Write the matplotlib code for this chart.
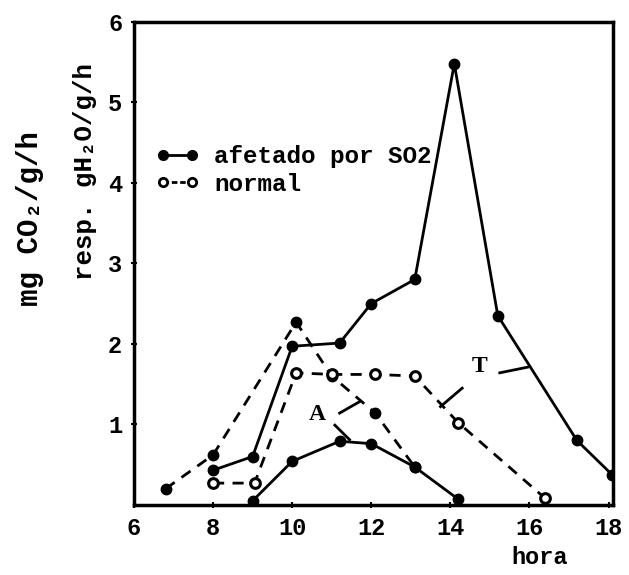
'''
Respiration / transpiration chart: plants affected by SO2 vs normal
'''
import matplotlib
matplotlib.use('Agg')
from matplotlib import pyplot as plt
from matplotlib.lines import Line2D

# Series (hour, value)
t_afetado_x = [8, 9, 10, 11.2, 12, 13.1, 14.1, 15.2, 17.2, 18.1]
t_afetado_y = [0.43, 0.6, 1.97, 2.01, 2.5, 2.8, 5.48, 2.35, 0.8, 0.37]

a_afetado_x = [9, 10, 11.2, 12, 13.1, 14.2]
a_afetado_y = [0.05, 0.54, 0.79, 0.76, 0.47, 0.07]

a_normal_x = [6.8, 8, 10.1, 11, 12.1, 13.1]
a_normal_y = [0.2, 0.62, 2.27, 1.6, 1.14, 0.47]

t_normal_x = [8, 9.05, 10.1, 11, 12.1, 13.1, 14.2, 16.4]
t_normal_y = [0.27, 0.27, 1.64, 1.62, 1.62, 1.6, 1.02, 0.08]

x_ticks = [6, 8, 10, 12, 14, 16, 18]
y_ticks = [1, 2, 3, 4, 5, 6]
legend_labels = ['afetado por SO2', 'normal']

FONT = ['Liberation Mono', 'DejaVu Sans Mono']
plt.rcParams['font.family'] = FONT
plt.rcParams['font.weight'] = 'bold'

fig = plt.figure(figsize=(6.29, 5.75), dpi=100)
ax = fig.add_axes([0.213, 0.122, 0.762, 0.840])

# Solid lines (afetado)
solid_kw = dict(color='black', lw=2.0, marker='o', ms=7.5, mfc='black', mec='black')
ax.plot(t_afetado_x, t_afetado_y, **solid_kw)
ax.plot(a_afetado_x, a_afetado_y, **solid_kw)

# Dashed lines (normal)
ax.plot(a_normal_x, a_normal_y, color='black', lw=2.0, dashes=(4, 3),
        marker='o', ms=7.5, mfc='black', mec='black')
ax.plot(t_normal_x, t_normal_y, color='black', lw=2.0, dashes=(4, 3),
        marker='o', ms=7, mfc='white', mec='black', mew=2.2)

# Curve labels with pointer strokes
line_kw = dict(color='black', lw=2.0)
ax.text(14.75, 1.72, 'T', fontsize=17, fontweight='bold', ha='center', va='center',
        family=['Liberation Serif'])
ax.plot([15.25, 15.95], [1.64, 1.71], **line_kw)
ax.plot([14.3, 13.75], [1.45, 1.22], **line_kw)

ax.text(10.63, 1.12, 'A', fontsize=17, fontweight='bold', ha='center', va='center',
        family=['Liberation Serif'])
ax.plot([11.2, 11.7], [1.14, 1.28], **line_kw)
ax.plot([11.08, 11.45], [0.99, 0.81], **line_kw)

ax.set_xlim(6, 18.12)
ax.set_ylim(0, 6)
ax.set_xticks(x_ticks)
ax.set_yticks(y_ticks)
ax.tick_params(direction='inout', length=5, width=1.5, labelsize=17, pad=6)
for lab in ax.get_xticklabels() + ax.get_yticklabels():
    lab.set_fontweight('bold')
for spine in ax.spines.values():
    spine.set_linewidth(2.5)

# Legend
handles = [
    Line2D([], [], color='black', lw=2.0, marker='o', ms=7, mfc='black'),
    Line2D([], [], color='black', lw=2.0, dashes=(2, 1), marker='o', ms=6,
           mfc='white', mew=2.0),
]
ax.legend(handles, legend_labels, loc='upper left', bbox_to_anchor=(0.02, 0.77),
          frameon=False, prop={'weight': 'bold', 'size': 17.5},
          handlelength=1.8, handletextpad=0.6, labelspacing=0.2, borderpad=0,
          numpoints=2)

# Axis titles
fig.text(30 / 629, 1 - 218 / 575, 'mg CO\u2082/g/h', rotation=90, ha='center',
         va='center', fontsize=21, fontweight='bold')
fig.text(85 / 629, 1 - 172 / 575, 'resp. gH\u2082O/g/h', rotation=90, ha='center',
         va='center', fontsize=18.5, fontweight='bold')
fig.text(540 / 629, 1 - 557 / 575, 'hora', ha='center', va='center',
         fontsize=17, fontweight='bold')

fig.savefig('out.png', dpi=100, facecolor='white')
